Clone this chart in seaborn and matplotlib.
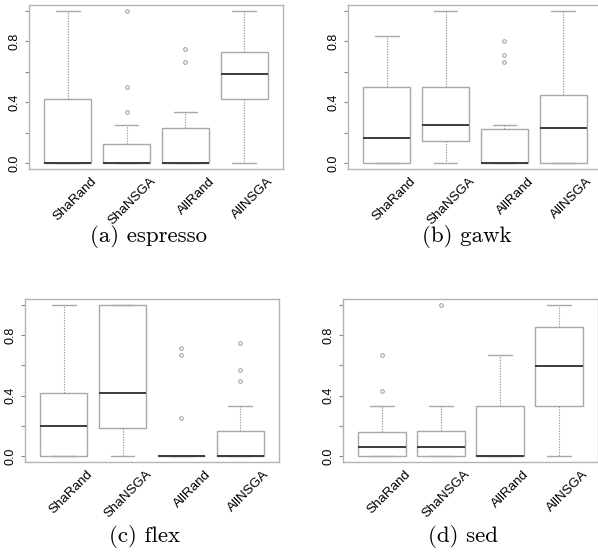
import numpy as np
import pandas as pd
import matplotlib
matplotlib.use("Agg")
import matplotlib.pyplot as plt
import matplotlib.transforms as mtransforms
import seaborn as sns

methods = ["ShaRand", "ShaNSGA", "AllRand", "AllNSGA"]
captions = ["(a) espresso", "(b) gawk", "(c) flex", "(d) sed"]

# samples (quartiles, whiskers, outliers)
espresso_sharand = [0, 0, 0, 0, 0, 0.2, 0.42, 0.7, 1.0]
espresso_shansga = [0, 0, 0, 0, 0, 0, 0, 0, 0, 0.05, 0.1, 0.12, 0.125, 0.25, 0.333, 0.5, 1.0]
espresso_allrand = [0, 0, 0, 0, 0, 0, 0, 0.1, 0.2, 0.227, 0.333, 0.667, 0.75]
espresso_allnsga = [0, 0.3, 0.42, 0.5, 0.583, 0.65, 0.73, 0.9, 1.0]

gawk_sharand = [0, 0, 0, 0.1, 0.165, 0.3, 0.5, 0.6, 0.833]
gawk_shansga = [0, 0.1, 0.143, 0.2, 0.25, 0.4, 0.5, 0.75, 1.0]
gawk_allrand = [0, 0, 0, 0, 0, 0, 0, 0, 0, 0.1, 0.2, 0.222, 0.225, 0.25, 0.667, 0.714, 0.8]
gawk_allnsga = [0, 0, 0, 0.1, 0.227, 0.3, 0.45, 0.7, 1.0]

flex_sharand = [0, 0, 0, 0.1, 0.2, 0.3, 0.417, 0.7, 1.0]
flex_shansga = [0, 0.1, 0.185, 0.3, 0.417, 0.8, 1.0, 1.0, 1.0]
flex_allrand = [0, 0, 0, 0, 0, 0, 0, 0, 0, 0, 0.25, 0.667, 0.714]
flex_allnsga = [0, 0, 0, 0, 0, 0, 0, 0, 0, 0.1, 0.125, 0.15, 0.167, 0.333, 0.5, 0.571, 0.75]

sed_sharand = [0, 0, 0, 0, 0.05, 0.056, 0.057, 0.1, 0.125, 0.156, 0.333, 0.429, 0.667]
sed_shansga = [0, 0, 0, 0.05, 0.057, 0.1, 0.167, 0.333, 1.0]
sed_allrand = [0, 0, 0, 0, 0, 0.2, 0.333, 0.5, 0.667]
sed_allnsga = [0, 0.2, 0.333, 0.5, 0.597, 0.75, 0.852, 0.95, 1.0]

panels = [
    [espresso_sharand, espresso_shansga, espresso_allrand, espresso_allnsga],
    [gawk_sharand, gawk_shansga, gawk_allrand, gawk_allnsga],
    [flex_sharand, flex_shansga, flex_allrand, flex_allnsga],
    [sed_sharand, sed_shansga, sed_allrand, sed_allnsga],
]

yticks = [0.0, 0.2, 0.4, 0.6, 0.8, 1.0]
yticklabels = ["0.0", "", "0.4", "", "0.8", ""]

sns.set_style("white")
plt.rcParams["font.family"] = ["Liberation Sans", "DejaVu Sans"]
plt.rcParams["text.color"] = "black"
plt.rcParams["ytick.labelcolor"] = "black"

W, H = 598, 552
fig = plt.figure(figsize=(W / 100, H / 100), dpi=100)

# axes boxes in pixels: left, top, width, height
boxes = [(29, 5, 254, 164), (348, 5, 254, 164), (25, 299, 254, 163), (343, 299, 255, 163)]
cap_pos = [(149, 242), (467, 242), (145, 542), (463, 542)]

frame_col = "#b4b4b4"
box_col = "#a8a8a8"

for k in range(4):
    l, t, w, h = boxes[k]
    ax = fig.add_axes([l / W, 1 - (t + h) / H, w / W, h / H])
    rows = []
    for m, vals in zip(methods, panels[k]):
        for v in vals:
            rows.append((m, v))
    df = pd.DataFrame(rows, columns=["method", "value"])
    sns.boxplot(
        data=df, x="method", y="value", order=methods, ax=ax,
        width=0.8, color="white", linecolor=box_col, linewidth=1.0,
        whis=1.5, fliersize=2.6,
        flierprops=dict(marker="o", markerfacecolor="none",
                        markeredgecolor="#999999", markeredgewidth=0.7),
        whiskerprops=dict(linestyle=(0, (1.2, 1.2)), linewidth=0.8, color="#9a9a9a"),
        capprops=dict(linewidth=1.0, color=box_col),
        medianprops=dict(color="#3c3c3c", linewidth=1.4),
        boxprops=dict(edgecolor=box_col, facecolor="white"),
    )
    ax.set_xlim(-0.66, 3.66)
    ax.set_ylim(-0.04, 1.04)
    ax.set_xlabel("")
    ax.set_ylabel("")
    ax.set_xticks(range(4))
    ax.set_xticklabels([])
    ax.tick_params(axis="x", length=0)
    ax.set_yticks(yticks)
    ax.set_yticklabels(yticklabels)
    ax.tick_params(axis="y", length=3, width=0.8, color="#888888", pad=3,
                   labelsize=9, labelcolor="black", labelrotation=90, left=True)
    for lbl in ax.get_yticklabels():
        lbl.set_va("center")
    for sp in ax.spines.values():
        sp.set_color(frame_col)
        sp.set_linewidth(1.0)
        sp.set_visible(True)
    trans = ax.get_xaxis_transform() + mtransforms.ScaledTranslation(
        23 / 100, -6 / 100, fig.dpi_scale_trans)
    for i, m in enumerate(methods):
        ax.text(i, 0, m, transform=trans, rotation=45, ha="right", va="top",
                rotation_mode="anchor", fontsize=9.6, color="black", clip_on=False)
    cx, cy = cap_pos[k]
    fig.text(cx / W, 1 - cy / H, captions[k], ha="center", va="baseline",
             fontsize=16.5, family="cmr10", color="black")

fig.savefig("out.png", dpi=100)
